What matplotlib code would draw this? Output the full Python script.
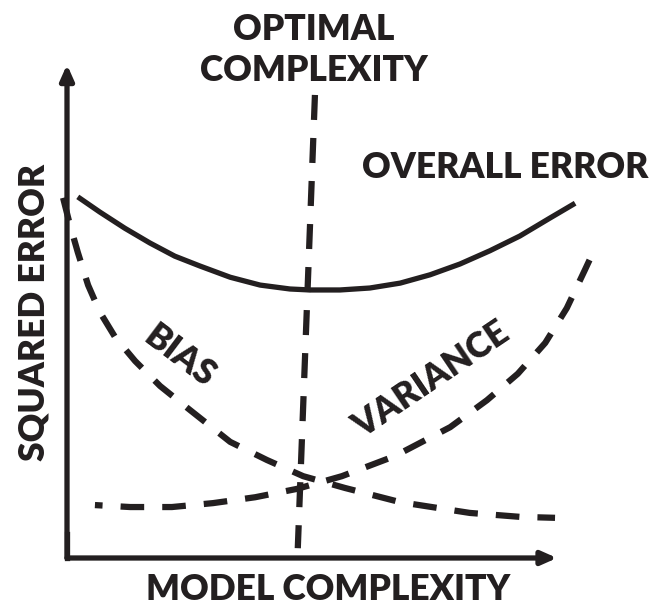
import numpy as np
import matplotlib
matplotlib.use("Agg")
import matplotlib.pyplot as plt

# Courbes (complexité du modèle, erreur) en unités arbitraires
overall_x = [0.22, 0.67, 1.18, 1.69, 2.20, 2.71, 3.33, 3.94, 4.55, 4.96, 5.57, 6.18, 6.80, 7.41, 8.02, 8.63, 9.24, 9.86, 10.37]
overall_y = [7.37, 7.06, 6.73, 6.43, 6.16, 5.96, 5.73, 5.57, 5.49, 5.47, 5.47, 5.51, 5.61, 5.78, 6.00, 6.27, 6.57, 6.94, 7.24]

bias_x = [-0.08, 0.06, 0.22, 0.43, 0.67, 0.98, 1.39, 1.90, 2.51, 3.33, 4.08, 4.82, 5.67, 6.80, 8.22, 9.24, 9.96]
bias_y = [7.35, 6.80, 6.24, 5.57, 5.02, 4.51, 4.02, 3.51, 3.02, 2.37, 2.00, 1.67, 1.43, 1.14, 0.92, 0.84, 0.82]

variance_x = [0.57, 1.29, 2.14, 2.98, 3.84, 4.69, 5.61, 6.69, 7.82, 8.57, 9.20, 9.76, 10.20, 10.57, 10.71]
variance_y = [1.08, 1.04, 1.04, 1.12, 1.24, 1.41, 1.67, 2.08, 2.67, 3.22, 3.76, 4.39, 5.10, 5.88, 6.18]

optimal_x = [5.06, 4.71]
optimal_y = [9.45, 0.20]

ink = '#231f20'
plt.rcParams['font.family'] = ['Lato', 'DejaVu Sans']
plt.rcParams['lines.scale_dashes'] = False

W, H = 658, 613
fig = plt.figure(figsize=(W / 100, H / 100), dpi=100)
# origine des axes à (67, 558) px, 49 px par unité
ax = fig.add_axes([67 / W, (H - 558) / H, 490 / W, 490 / H])
ax.set_xlim(0, 10)
ax.set_ylim(0, 10)
ax.axis('off')

ax.plot(overall_x, overall_y, color=ink, lw=3.8, solid_capstyle='butt', clip_on=False)
ax.plot(bias_x, bias_y, color=ink, lw=4.5, linestyle=(0, (17, 13)), dash_capstyle='butt', clip_on=False)
ax.plot(variance_x, variance_y, color=ink, lw=4.5, linestyle=(11.5, (17, 13)), dash_capstyle='butt', clip_on=False)
ax.plot(optimal_x, optimal_y, color=ink, lw=4.5, linestyle=(0, (18, 13)), dash_capstyle='butt', clip_on=False)

# Axes avec flèches
arrow = dict(arrowstyle='-|>,head_length=0.9,head_width=0.4', color=ink, lw=3.8, shrinkA=0, shrinkB=0)
ax.annotate('', xy=(0, 10.07), xytext=(0, 0), arrowprops=arrow, annotation_clip=False)
ax.annotate('', xy=(10.0, 0), xytext=(0, 0), arrowprops=arrow, annotation_clip=False)
ax.plot([0, 0], [0, 0.5], color=ink, lw=3.8, solid_capstyle='projecting', clip_on=False)

fs = 25.5
def px(x, y):
    return x / W, 1 - y / H

style = dict(fontsize=fs, fontweight='heavy', color=ink)
fig.text(*px(314, 50), 'OPTIMAL\nCOMPLEXITY', ha='center', va='center', linespacing=1.3, **style)
fig.text(*px(362, 167), 'OVERALL ERROR', ha='left', va='center', **style)
fig.text(*px(34, 312), 'SQUARED ERROR', ha='center', va='center', rotation=90, **style)
fig.text(*px(180, 356), 'BIAS', ha='center', va='center', rotation=-37, rotation_mode='anchor', **style)
fig.text(*px(431, 380), 'VARIANCE', ha='center', va='center', rotation=34, rotation_mode='anchor', **style)
fig.text(*px(328, 590), 'MODEL COMPLEXITY', ha='center', va='center', **style)

fig.savefig('out.png', dpi=100)
